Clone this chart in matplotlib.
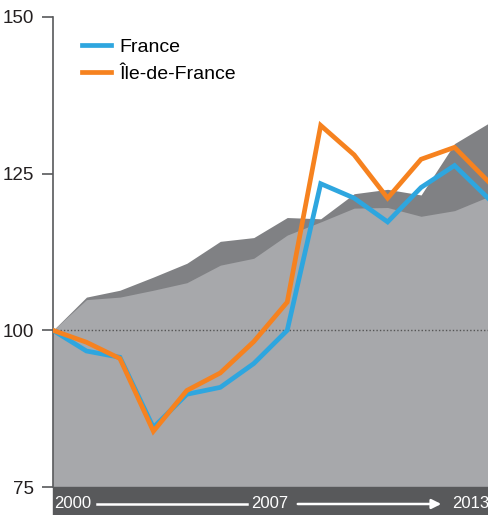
import matplotlib.pyplot as plt
import matplotlib.patches as mpatches

# index values, base 100 in 2000
years = list(range(2000, 2014))
france = [100, 96.7, 95.7, 84.5, 89.8, 90.9, 94.7, 100, 123.4, 121.1, 117.3, 122.8, 126.3, 121.1]
idf = [100, 98.1, 95.5, 83.9, 90.4, 93.2, 98.2, 104.5, 132.7, 128.0, 121.1, 127.3, 129.2, 123.8]
# background areas
area_light = [100, 104.9, 105.3, 106.4, 107.6, 110.4, 111.5, 115.2, 117.3, 119.5, 119.6, 118.2, 119.1, 121.3]
area_dark = [100, 105.3, 106.4, 108.5, 110.7, 114.2, 114.8, 118.0, 117.8, 121.8, 122.5, 121.6, 129.8, 133.0]
yticks = [75, 100, 125, 150]
series_names = ["France", "Île-de-France"]
bar_labels = ["2000", "2007", "2013"]

blue = '#2ea6df'
orange = '#f6821f'
lightgrey = '#a7a8ab'
darkgrey = '#808184'
bargrey = '#58595b'
font = ['Liberation Sans Narrow', 'Liberation Sans', 'DejaVu Sans']
plt.rcParams['font.family'] = font

W, H = 489, 515
fig = plt.figure(figsize=(W / 100, H / 100), dpi=100)
ax = fig.add_axes([53 / W, (H - 487) / H, (488 - 53) / W, (487 - 17) / H])

ax.fill_between(years, 75, area_dark, color=darkgrey, lw=0)
ax.fill_between(years, 75, area_light, color=lightgrey, lw=0)
ax.axhline(100, color='#555555', lw=1, ls=(0, (1, 1.5)), zorder=2)

ax.plot(years, france, color=blue, lw=3.4, solid_joinstyle='miter', label=series_names[0], zorder=3)
ax.plot(years, idf, color=orange, lw=3.4, solid_joinstyle='miter', label=series_names[1], zorder=4)

ax.set_xlim(2000, 2013)
ax.set_ylim(75, 150)
ax.set_yticks(yticks)
ax.set_xticks([])
for s in ['top', 'right', 'bottom']:
    ax.spines[s].set_visible(False)
ax.spines['left'].set_color(bargrey)
ax.spines['left'].set_linewidth(1.2)
ax.tick_params(axis='y', length=8, width=1.2, color=bargrey, pad=6,
               labelsize=13.5, labelcolor='#231f20')

leg = ax.legend(loc='upper left', bbox_to_anchor=(0.026, 0.992), frameon=False,
                fontsize=14, handlelength=1.5, handletextpad=0.45, labelspacing=0.48)
for line in leg.get_lines():
    line.set_linewidth(3.4)

# timeline bar below the plot
fig.patches.append(mpatches.Rectangle((53 / W, 0), 1 - 53 / W, 28 / H,
                                      transform=fig.transFigure, color=bargrey, zorder=0))
ty = 11 / H
fig.text(54 / W, ty, bar_labels[0], color='white', fontsize=12, va='center', ha='left')
fig.text(270 / W, ty, bar_labels[1], color='white', fontsize=12, va='center', ha='center')
fig.text(489 / W, ty, bar_labels[2], color='white', fontsize=12, va='center', ha='right')
fig.add_artist(plt.Line2D([97 / W, 247 / W], [ty, ty], color='white', lw=1.8,
                          transform=fig.transFigure))
fig.add_artist(mpatches.FancyArrowPatch((295 / W, ty), (444 / W, ty), transform=fig.transFigure,
                                        arrowstyle='-|>', mutation_scale=14, color='white', lw=1.8))

fig.savefig('out.png', dpi=100)
